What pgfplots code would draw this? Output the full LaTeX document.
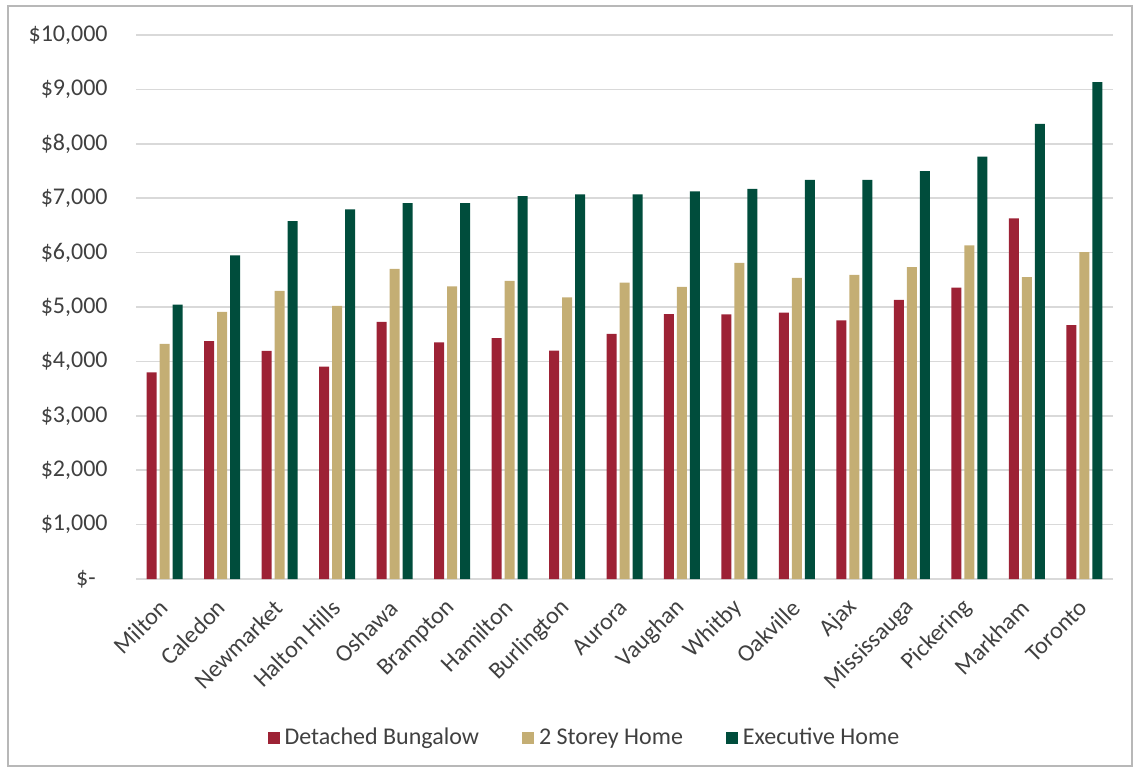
\documentclass[border=0pt]{standalone}
\usepackage{fontspec}
\setmainfont{Carlito}
\usepackage{pgfplots}
\pgfplotsset{compat=1.18}
\definecolor{cred}{RGB}{157,34,53}
\definecolor{ctan}{RGB}{196,174,116}
\definecolor{cgreen}{RGB}{0,77,60}
\definecolor{cgrid}{RGB}{217,217,217}
\definecolor{ctext}{RGB}{64,64,64}
\pgfplotstableread{
x bung storey exec
0 3800 4320 5045
1 4375 4910 5950
2 4195 5295 6580
3 3905 5020 6795
4 4725 5700 6910
5 4350 5380 6910
6 4430 5480 7040
7 4200 5175 7070
8 4505 5450 7070
9 4870 5370 7125
10 4865 5810 7170
11 4895 5535 7335
12 4755 5590 7335
13 5130 5735 7500
14 5355 6135 7765
15 6630 5550 8365
16 4665 6010 9135
}\datatable
\begin{document}
\begin{tikzpicture}[x=1pt,y=1pt]
\useasboundingbox (-68,-96.5) rectangle (501,289.5);
\draw[cgrid!85!black, line width=0.75pt] (-64,-93.5) rectangle (498,286.5);
\begin{axis}[
  at={(0,0)}, anchor=south west,
  scale only axis, width=488.5pt, height=272pt,
  ybar=1.5pt, bar width=5pt,
  xmin=-0.5, xmax=16.5, ymin=0, ymax=10000,
  scaled y ticks=false,
  xtick=data,
  xticklabels={Milton,Caledon,Newmarket,Halton Hills,Oshawa,Brampton,Hamilton,Burlington,Aurora,Vaughan,Whitby,Oakville,Ajax,Mississauga,Pickering,Markham,Toronto},
  ytick={0,1000,...,10000},
  yticklabels={{\$-\kern 6pt},{\$1,000},{\$2,000},{\$3,000},{\$4,000},{\$5,000},{\$6,000},{\$7,000},{\$8,000},{\$9,000},{\$10,000}},
  ymajorgrids, grid style={cgrid, line width=0.75pt},
  axis x line*=bottom, axis y line*=left,
  x axis line style={cgrid, line width=1pt, -},
  y axis line style={draw=none},
  major tick length=0pt,
  tick style={draw=none},
  ticklabel style={font=\fontsize{12}{14}\selectfont, text=ctext},
  yticklabel style={anchor=east, inner sep=0pt, xshift=-14pt},
  xticklabel style={rotate=45, anchor=east, inner sep=0pt, xshift=-9.1pt, yshift=-8.5pt},
  legend style={at={(0.46,-0.292)}, anchor=center, draw=none, fill=none,
    font=\fontsize{12}{14}\selectfont, text=ctext,
    /tikz/every even column/.append style={column sep=19.5pt}},
  legend columns=3,
]
\addplot[fill=cred, draw=none, legend image code/.code={\fill[cred] (0pt,-3pt) rectangle (6pt,3pt); \path (6.5pt,0pt);}] table[x=x,y=bung]{\datatable};
\addplot[fill=ctan, draw=none, legend image code/.code={\fill[ctan] (0pt,-3pt) rectangle (6pt,3pt); \path (6.5pt,0pt);}] table[x=x,y=storey]{\datatable};
\addplot[fill=cgreen, draw=none, legend image code/.code={\fill[cgreen] (0pt,-3pt) rectangle (6pt,3pt); \path (6.5pt,0pt);}] table[x=x,y=exec]{\datatable};
\legend{Detached Bungalow,2 Storey Home,Executive Home}
\end{axis}
\end{tikzpicture}
\end{document}
